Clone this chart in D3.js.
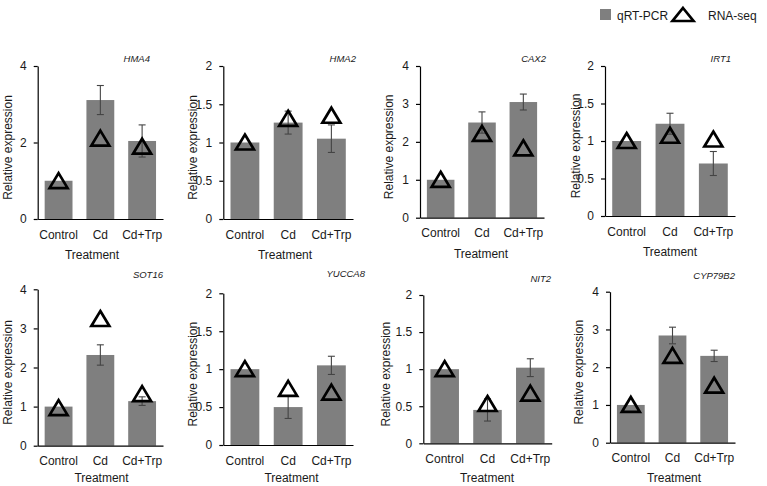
<!DOCTYPE html>
<html>
<head>
<meta charset="utf-8">
<script src="https://cdn.jsdelivr.net/npm/d3@7"></script>
<style>
  html, body { margin: 0; padding: 0; background: #fff; }
  svg { display: block; }
  text { font-family: "Liberation Sans", Arial, sans-serif; fill: #1a1a1a; }
</style>
</head>
<body>
<svg id="chart" width="767" height="486"></svg>
<script>
// ---- data ----
const genes = ["HMA4", "HMA2", "CAX2", "IRT1", "SOT16", "YUCCA8", "NIT2", "CYP79B2"];
const treatments = ["Control", "Cd", "Cd+Trp"];
const qpcr = [
  [1.00, 3.11, 2.04],
  [1.00, 1.26, 1.05],
  [1.00, 2.51, 3.05],
  [1.00, 1.23, 0.70],
  [1.00, 2.32, 1.14],
  [1.00, 0.50, 1.05],
  [1.00, 0.45, 1.02],
  [1.00, 2.84, 2.30]
];
const qpcrErr = [
  [0, 0.38, 0.42],
  [0, 0.15, 0.18],
  [0, 0.28, 0.21],
  [0, 0.14, 0.16],
  [0, 0.26, 0.11],
  [0, 0.15, 0.12],
  [0, 0.15, 0.12],
  [0, 0.22, 0.15]
];
const rnaseq = [
  [0.99, 2.10, 1.89],
  [1.00, 1.31, 1.35],
  [1.00, 2.21, 1.83],
  [1.00, 1.07, 1.02],
  [0.96, 3.24, 1.32],
  [1.00, 0.74, 0.69],
  [1.00, 0.53, 0.67],
  [1.00, 2.30, 1.51]
];
const yMax = [4, 2, 4, 2, 4, 2, 2, 4];
const yTickLabels = [
  [0, 2, 4],
  [0, 0.5, 1, 1.5, 2],
  [0, 1, 2, 3, 4],
  [0, 0.5, 1, 1.5, 2],
  [0, 1, 2, 3, 4],
  [0, 0.5, 1, 1.5, 2],
  [0, 0.5, 1, 1.5, 2],
  [0, 1, 2, 3, 4]
];
const legendLabels = ["qRT-PCR", "RNA-seq"];
const yTitle = "Relative expression";
const xTitle = "Treatment";

// ---- layout (per panel: axis x, axis end x, top y, zero y, title right x, y-title x, x-title cx, x-title offset) ----
const layout = [
  {x0: 37.7,  x1: 163,   yT: 66,    yB: 219,   tx: 150, ylx: 8,     xtx: 92,    xto: 40},
  {x0: 223.3, x1: 353,   yT: 66,    yB: 219,   tx: 356, ylx: 193,   xtx: 285,   xto: 40},
  {x0: 420,   x1: 544,   yT: 66,    yB: 217.7, tx: 546, ylx: 388.5, xtx: 481,   xto: 40},
  {x0: 605,   x1: 735,   yT: 66,    yB: 216,   tx: 731, ylx: 576,   xtx: 670,   xto: 40},
  {x0: 37.7,  x1: 163,   yT: 289.3, yB: 445.7, tx: 163, ylx: 8,     xtx: 101.5, xto: 36.5},
  {x0: 223.3, x1: 353,   yT: 293.3, yB: 445,   tx: 365, ylx: 193,   xtx: 291.5, xto: 37},
  {x0: 423.3, x1: 551.7, yT: 295,   yB: 443.3, tx: 551, ylx: 386,   xtx: 487,   xto: 38.5},
  {x0: 610,   x1: 735,   yT: 291.7, yB: 442.7, tx: 735, ylx: 579,   xtx: 674,   xto: 39}
];
const titleY = [62, 62, 62, 62, 278, 277, 282, 279];

const barColor = "#7f7f7f";
const svg = d3.select("#chart");

genes.forEach((gene, i) => {
  const L = layout[i];
  const g = svg.append("g");
  const x = d3.scaleBand().domain(treatments).range([L.x0, L.x1])
    .paddingInner(1/3).paddingOuter(1/6);
  const y = d3.scaleLinear().domain([0, yMax[i]]).range([L.yB, L.yT]);

  // bars
  g.selectAll("rect.bar").data(treatments).join("rect")
    .attr("class", "bar")
    .attr("x", d => x(d))
    .attr("width", x.bandwidth())
    .attr("y", (d, j) => y(qpcr[i][j]))
    .attr("height", (d, j) => y(0) - y(qpcr[i][j]))
    .attr("fill", barColor);

  // error bars
  const eb = g.selectAll("g.err").data(treatments.filter((d, j) => qpcrErr[i][j] > 0)).join("g")
    .attr("class", "err");
  eb.each(function(d) {
    const j = treatments.indexOf(d);
    const cx = x(d) + x.bandwidth() / 2;
    const hi = y(qpcr[i][j] + qpcrErr[i][j]);
    const lo = y(qpcr[i][j] - qpcrErr[i][j]);
    const s = d3.select(this);
    s.append("line").attr("x1", cx).attr("x2", cx).attr("y1", hi).attr("y2", lo);
    s.append("line").attr("x1", cx - 3.5).attr("x2", cx + 3.5).attr("y1", hi).attr("y2", hi);
    s.append("line").attr("x1", cx - 3.5).attr("x2", cx + 3.5).attr("y1", lo).attr("y2", lo);
  });
  eb.selectAll("line").attr("stroke", "#444").attr("stroke-width", 1.1);

  // axes
  const yAxis = d3.axisLeft(y).tickValues(yTickLabels[i]).tickSize(4).tickSizeOuter(0).tickPadding(7)
    .tickFormat(d => String(d));
  const ga = g.append("g").attr("transform", `translate(${L.x0},0)`).call(yAxis);
  ga.selectAll("text").attr("font-size", 12).style("font-family", '"Liberation Sans", Arial, sans-serif').attr("fill", "#1a1a1a");
  ga.selectAll("path, line").attr("stroke", "#000").attr("stroke-width", 1.2);

  const xAxis = d3.axisBottom(x).tickSize(0).tickSizeOuter(0).tickPadding(11);
  const gx = g.append("g").attr("transform", `translate(0,${L.yB})`).call(xAxis);
  gx.selectAll("text").attr("font-size", 12).style("font-family", '"Liberation Sans", Arial, sans-serif').attr("fill", "#1a1a1a");
  gx.select(".domain").attr("stroke", "#000").attr("stroke-width", 1.2);

  // RNA-seq triangles
  g.selectAll("path.tri").data(treatments).join("path")
    .attr("class", "tri")
    .attr("d", (d, j) => {
      const cx = x(d) + x.bandwidth() / 2, cy = y(rnaseq[i][j]);
      return `M${cx},${cy - 8} L${cx + 9},${cy + 7} L${cx - 9},${cy + 7} Z`;
    })
    .attr("fill", "none").attr("stroke", "#000").attr("stroke-width", 2.7)
    .attr("stroke-linejoin", "miter");

  // gene title
  g.append("text").attr("x", L.tx).attr("y", titleY[i])
    .attr("text-anchor", "end").attr("font-size", 9.5).attr("font-style", "italic")
    .text(gene);

  // axis titles
  g.append("text")
    .attr("transform", `translate(${L.ylx},${(L.yT + L.yB) / 2 + 5}) rotate(-90)`)
    .attr("text-anchor", "middle").attr("dominant-baseline", "central")
    .attr("font-size", 12).text(yTitle);
  g.append("text").attr("x", L.xtx).attr("y", L.yB + L.xto)
    .attr("text-anchor", "middle").attr("font-size", 12).text(xTitle);
});

// legend
const lg = svg.append("g");
lg.append("rect").attr("x", 600).attr("y", 9).attr("width", 11).attr("height", 11).attr("fill", barColor);
lg.append("text").attr("x", 617).attr("y", 19.5).attr("font-size", 12).text(legendLabels[0]);
lg.append("path").attr("d", "M683,8 L693.5,21 L672.5,21 Z").attr("fill", "none").attr("stroke", "#000").attr("stroke-width", 2.7);
lg.append("text").attr("x", 708).attr("y", 19.5).attr("font-size", 12).text(legendLabels[1]);
</script>
</body>
</html>
